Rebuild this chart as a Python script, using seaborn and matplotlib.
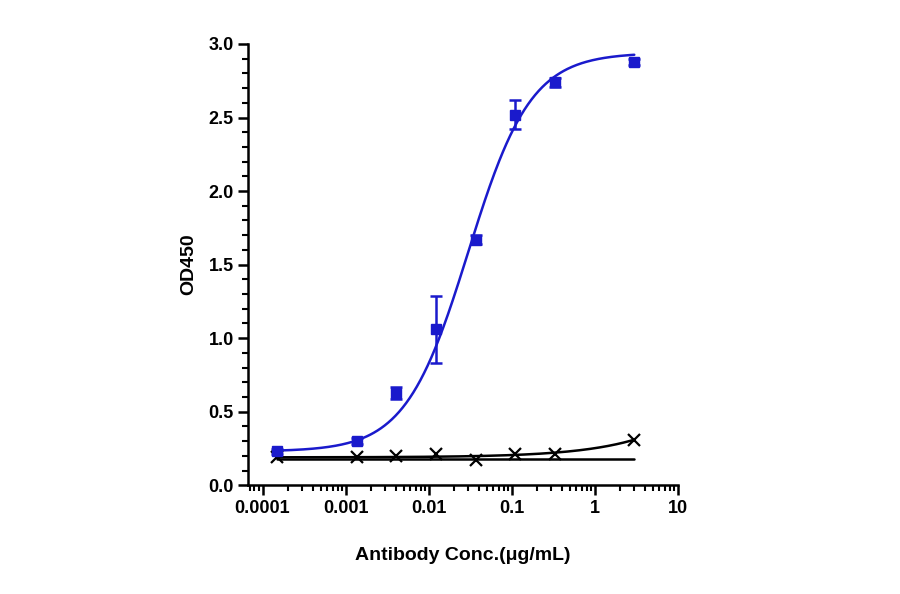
import matplotlib.pyplot as plt
import numpy as np
import seaborn as sns

sns.set_style('ticks')
plt.rcParams['font.family'] = ['Liberation Sans', 'DejaVu Sans']
plt.rcParams['text.color'] = 'black'
plt.rcParams['axes.labelcolor'] = 'black'

conc = [0.00015, 0.00137, 0.0041, 0.0123, 0.037, 0.111, 0.333, 3.0]
od_pos = [0.23, 0.30, 0.63, 1.06, 1.67, 2.52, 2.74, 2.88]
err_pos = [0.02, 0.02, 0.04, 0.23, 0.03, 0.10, 0.03, 0.02]
od_neg = [0.19, 0.19, 0.20, 0.21, 0.17, 0.21, 0.21, 0.31]

# estimated 4PL fit parameters (bottom, top, ec50, hill)
fit_pos = (0.23, 2.94, 0.03, 1.15)

def four_pl(x, b, t, c, h):
    return b + (t - b) / (1 + (c / x) ** h)

fig = plt.figure(figsize=(9, 5.94), dpi=100)
ax = fig.add_axes([0.276, 0.183, 0.477, 0.743])

xs = np.logspace(np.log10(conc[0]), np.log10(conc[-1]), 300)
sns.lineplot(x=xs, y=four_pl(xs, *fit_pos), color='#1a1acc', lw=1.8, ax=ax)
ax.errorbar(conc, od_pos, yerr=err_pos, fmt='s', color='#1a1acc', ms=7,
            capsize=4, elinewidth=1.8, capthick=1.8)

# negative control fit lines
sns.lineplot(x=xs, y=0.19 + 0.12 * (xs / conc[-1]) ** 0.6, color='black', lw=1.8, ax=ax)
sns.lineplot(x=xs, y=0.18 + 0.0 * xs, color='black', lw=1.8, ax=ax)
ax.plot(conc, od_neg, 'x', color='black', ms=8, mew=1.6)

ax.set_xscale('log')
ax.set_xlim(10 ** -4.17, 10)
ax.set_ylim(0, 3.0)
ax.set_xticks([1e-4, 1e-3, 1e-2, 1e-1, 1, 10])
ax.set_xticklabels(['0.0001', '0.001', '0.01', '0.1', '1', '10'])
ax.set_yticks(np.arange(0, 3.01, 0.5))
ax.set_yticklabels([f'{v:.1f}' for v in np.arange(0, 3.01, 0.5)])
ax.yaxis.set_minor_locator(plt.MultipleLocator(0.1))
ax.tick_params(which='major', width=1.8, length=7, labelsize=13, colors='black')
ax.tick_params(which='minor', width=1.5, length=4, colors='black')
for lbl in ax.get_xticklabels() + ax.get_yticklabels():
    lbl.set_fontweight('bold')
for s in ['left', 'bottom']:
    ax.spines[s].set_linewidth(1.8)
    ax.spines[s].set_color('black')
sns.despine(ax=ax)
ax.set_xlabel('Antibody Conc.(μg/mL)', fontsize=14, fontweight='bold', labelpad=22)
ax.set_ylabel('OD450', fontsize=14, fontweight='bold', labelpad=8)

fig.savefig('out.png')
